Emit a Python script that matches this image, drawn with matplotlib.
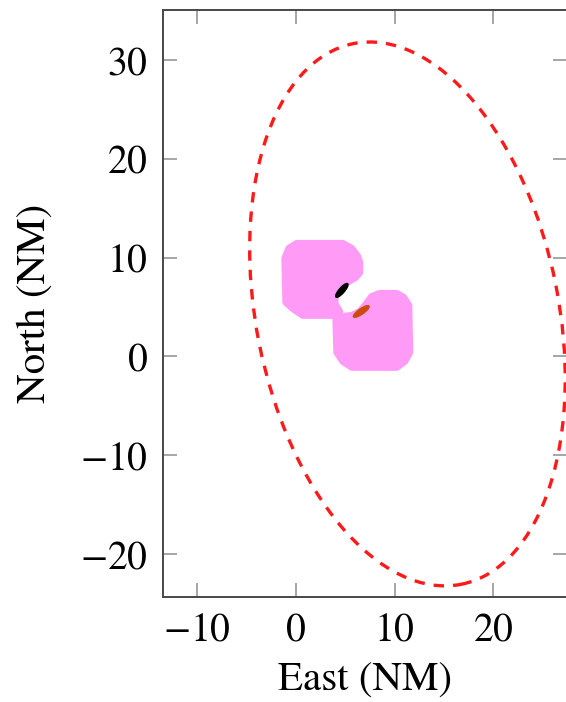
"""Encounter plot: uncertainty ellipse, reachable regions and aircraft marks."""

import matplotlib
matplotlib.use("Agg")
import matplotlib.pyplot as plt  # noqa: E402
from matplotlib.patches import Ellipse, Polygon  # noqa: E402
from matplotlib.ticker import FuncFormatter  # noqa: E402

# ---------------------------------------------------------------------------
# Data (east, north in NM)
# ---------------------------------------------------------------------------
ELLIPSE_CENTER = (11.3, 4.3)
ELLIPSE_AXES = (30.6, 55.8)      # full widths (minor, major)
ELLIPSE_ANGLE = 11.3             # degrees

REGION_A_EAST = [0.10, 4.76, 5.67, 6.28, 6.48, 6.48, 6.07, 5.36, 4.66, 4.05,
                 3.95, 4.45, 3.95, 0.71, -0.20, -1.01, -1.11, -0.71]
REGION_A_NORTH = [11.44, 11.44, 10.93, 10.12, 9.51, 8.50, 8.00, 7.59, 7.09,
                  6.48, 5.36, 4.55, 4.15, 4.15, 4.76, 5.47, 9.92, 10.93]

REGION_B_EAST = [7.69, 8.50, 10.22, 10.93, 11.44, 11.54, 11.03, 10.22, 5.67,
                 4.76, 4.15, 4.05, 4.76, 5.67, 6.48, 7.09]
REGION_B_NORTH = [6.07, 6.38, 6.38, 5.97, 5.16, 0.40, -0.51, -1.11, -1.11,
                  -0.51, 0.40, 3.85, 4.05, 4.15, 4.55, 5.26]

OWN_POS = (4.66, 6.68)
OWN_HEADING = 49
INTRUDER_POS = (6.63, 4.55)
INTRUDER_HEADING = 35

X_TICKS = [-10, 0, 10, 20]
Y_TICKS = [-20, -10, 0, 10, 20, 30]

PINK = "#FF9AF6"
MARK_RED = "#CC4A0A"
TICK_GRAY = "#A6A6A6"
SPINE = "#484848"

plt.rcParams.update({
    "font.family": ["STIXGeneral", "DejaVu Serif"],
    "mathtext.fontset": "stix",
    "lines.scale_dashes": False,
})


def tex_num(v, _pos):
    # TeX-style tick label (wide minus)
    return r"$\mathregular{%d}$" % v if v >= 0 else r"$-\mathregular{%d}$" % -v


fig = plt.figure(figsize=(5.66, 7.02), dpi=100)
ax = fig.add_axes([163 / 566, 105 / 702, 404 / 566, 587 / 702])

for east, north in ((REGION_A_EAST, REGION_A_NORTH),
                    (REGION_B_EAST, REGION_B_NORTH)):
    ax.add_patch(Polygon(list(zip(east, north)), closed=True,
                         facecolor=PINK, edgecolor=PINK, linewidth=5,
                         joinstyle="round", zorder=2))

ax.add_patch(Ellipse(OWN_POS, 1.8, 0.55, angle=OWN_HEADING,
                     color="black", zorder=3))
ax.add_patch(Ellipse(INTRUDER_POS, 1.9, 0.55, angle=INTRUDER_HEADING,
                     color=MARK_RED, zorder=3))

ax.add_patch(Ellipse(ELLIPSE_CENTER, ELLIPSE_AXES[0], ELLIPSE_AXES[1],
                     angle=ELLIPSE_ANGLE, fill=False, edgecolor="#FF1A1A",
                     linewidth=2.4, linestyle=(0, (7.5, 6.5)), zorder=4))

ax.set_xlim(-13.44, 27.45)
ax.set_ylim(-24.35, 35.06)
ax.set_xticks(X_TICKS)
ax.set_yticks(Y_TICKS)
ax.xaxis.set_major_formatter(FuncFormatter(tex_num))
ax.yaxis.set_major_formatter(FuncFormatter(tex_num))

for s in ax.spines.values():
    s.set_color(SPINE)
    s.set_linewidth(1.4)

ax.tick_params(direction="in", length=10, width=1.4, color=TICK_GRAY,
               labelsize=28.5, top=True, right=True, labelcolor="black")
ax.tick_params(axis="x", pad=11)
ax.tick_params(axis="y", pad=11)

ax.set_xlabel("East (NM)", fontsize=29.5, labelpad=9)
ax.set_ylabel("North (NM)", fontsize=29.5, labelpad=19)

fig.savefig("out.png", dpi=100)
